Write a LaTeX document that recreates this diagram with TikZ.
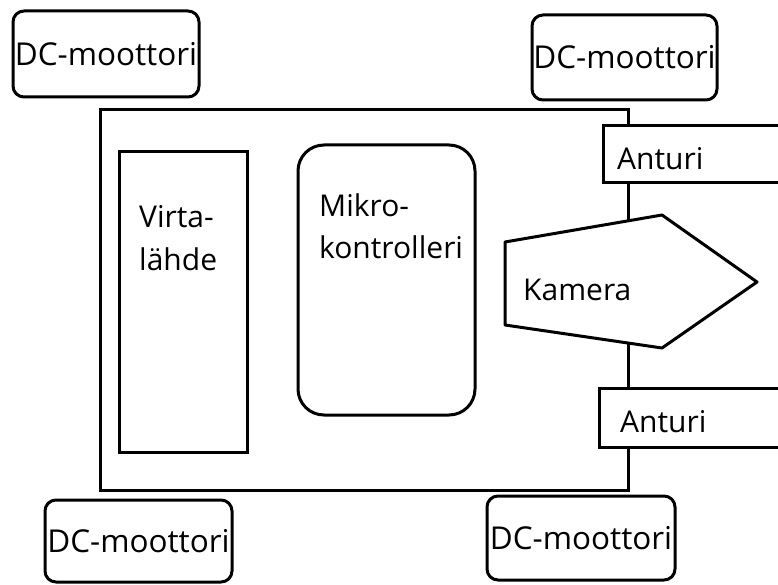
\documentclass[tikz,border=0pt]{standalone}
\usepackage{fontspec}
\setmainfont{Open Sans}
\begin{document}
\begin{tikzpicture}[x=1pt,y=-1pt,
  box/.style={draw=black,line width=3pt,fill=white,inner sep=0pt},
  rbox/.style={box,rounded corners=11pt},
  txt/.style={inner sep=0pt,anchor=base west,font=\fontsize{30}{36}\selectfont},
  mtxt/.style={font=\fontsize{31.5}{36}\selectfont}]
\fill[white] (0,0) rectangle (778,585);
\useasboundingbox (0,0) rectangle (778,585);
% main frame
\node[box,fill=none,minimum width=528pt,minimum height=380pt] (frame) at (364,300) {};
% power supply and microcontroller
\node[box,minimum width=128pt,minimum height=300pt] (virta) at (183,302) {};
\node[txt] (virtat1) at (139,228) {Virta-};
\node[txt] (virtat2) at (139,270) {lähde};
\node[box,rounded corners=26pt,minimum width=177pt,minimum height=270pt] (mikro) at (386.5,280) {};
\node[txt] (mikrot1) at (319,217) {Mikro-};
\node[txt] (mikrot2) at (319,258) {kontrolleri};
% sensors
\node[box,minimum width=200pt,minimum height=57pt,anchor=west] (anturi1) at (602,154.5) {};
\node[txt] (anturit1) at (617,170) {Anturi};
\node[box,minimum width=200pt,minimum height=59pt,anchor=west] (anturi2) at (598,417.5) {};
\node[txt] (anturit2) at (620,432) {Anturi};
% camera
\coordinate (k1) at (505,242);
\coordinate (k2) at (662,215);
\coordinate (k3) at (757,282);
\coordinate (k4) at (662,348);
\coordinate (k5) at (505,325);
\draw[box,line join=round] (k1) -- (k2) -- (k3) -- (k4) -- (k5) -- cycle;
\node[txt] (kamera) at (523,300) {Kamera};
% motors
\node[rbox,minimum width=186pt,minimum height=86pt,mtxt] (m1) at (106,54) {DC-moottori};
\node[rbox,minimum width=185pt,minimum height=85pt,mtxt] (m2) at (624.5,57.5) {DC-moottori};
\node[rbox,minimum width=187pt,minimum height=82pt,mtxt] (m3) at (138.5,541) {DC-moottori};
\node[rbox,minimum width=188pt,minimum height=84pt,mtxt] (m4) at (581,538) {DC-moottori};
\end{tikzpicture}
\end{document}
